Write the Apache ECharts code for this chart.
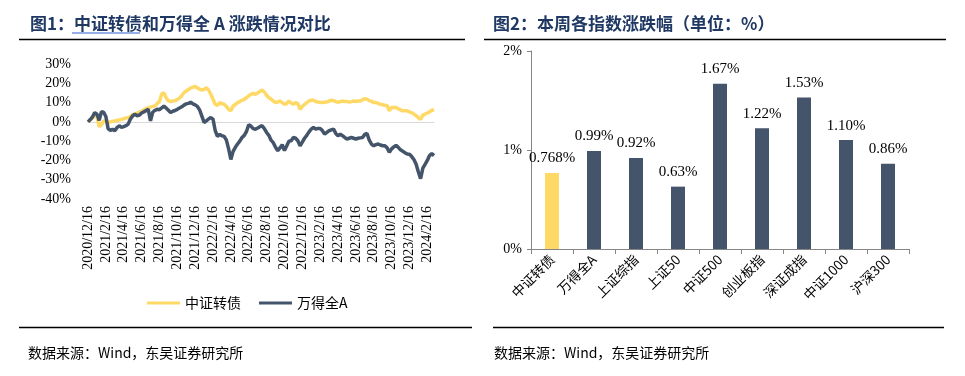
<!DOCTYPE html>
<html>
<head>
<meta charset="utf-8">
<title>可转债周报图表</title>
<script src="https://cdn.jsdelivr.net/npm/echarts@6/dist/echarts.min.js"></script>
<style>
    html, body { margin: 0; padding: 0; background: #fff; }
    #chart { width: 965px; height: 376px; }
</style>
</head>
<body>
<div id="chart"></div>
<script>
// Fig 1: cumulative change since 2020/12/16 (%), one point roughly per week
const tickLabels = [
    '2020/12/16', '2021/2/16', '2021/4/16', '2021/6/16', '2021/8/16', '2021/10/16', '2021/12/16',
    '2022/2/16', '2022/4/16', '2022/6/16', '2022/8/16', '2022/10/16', '2022/12/16',
    '2023/2/16', '2023/4/16', '2023/6/16', '2023/8/16', '2023/10/16', '2023/12/16', '2024/2/16'
];

const convBond = [
    0, 0.8, 2, 3.5, 3, -2.5, -1.5, 0.5, 0.2, -0.5,
    0, 0.3, 0.5, 0.8, 1.0, 1.3, 1.6, 2.0, 2.2, 2.8,
    3.8, 4.0, 4.5, 5.0, 5.5, 6.2, 6.8, 7.2, 7.6, 8.0,
    8.3, 9.5, 10.5, 14.5, 15.0, 12.5, 11.0, 10.5, 10.8, 11,
    11.5, 12.3, 13.5, 15.1, 16, 16.8, 17.5, 18, 18.3, 17.6,
    17, 16.5, 16.8, 17.7, 16.5, 14.3, 11.7, 9.1, 8.5, 10,
    9.4, 9.1, 8.0, 6.5, 5.7, 8.2, 9.0, 10, 10.5, 11.2,
    11.7, 12.5, 13.5, 14.3, 14.8, 14.3, 15, 15.8, 16.5, 15.5,
    13.8, 12.5, 11.8, 10.8, 10, 10.3, 10.8, 10, 9.1, 9.5,
    10.8, 9.8, 9.1, 10, 9.5, 6.5, 8, 9, 10, 10.8,
    11.2, 11.2, 10.5, 10.3, 10.1, 10, 10.2, 10.3, 10.8, 11.2,
    11, 10.5, 10.2, 10.5, 10.8, 10.6, 10.5, 10.3, 10.5, 10.8,
    10.6, 10.8, 10.8, 11.5, 12, 11.8, 11, 10.6, 10, 10,
    9.6, 9.1, 8.9, 8.6, 8.5, 5.7, 7.4, 7.5, 7.4, 6.8,
    6.2, 5.7, 5.8, 5.7, 5.2, 4.8, 4.0, 3.2, 2.2, 1.2,
    3.5, 4.0, 4.6, 5.2, 6.0, 6.3
];

const windA = [
    0, 1.2, 2.5, 4.8, 4.0, 0.8, 5.2, 5.0, 2.8, -3.5,
    -4.4, -3.8, -4.6, -3.0, -2.0, -2.9, -2.5, -2.0, -1.2, 1.5,
    3.1, 4.0, 3.2, 3.5, 4.6, 5.2, 5.8, 6.5, 0.5, 5.0,
    6.0, 6.5, 6.3, 7.2, 8.2, 7.2, 6.0, 4.8, 5.5, 5.9,
    6.5, 7.2, 7.8, 8.7, 9.3, 9.6, 10.2, 9.3, 8.8, 8.0,
    6.2, 3.0, -0.3, 0.5, 1.5, 2.2, 1.4, -4.6, -7.5, -6.5,
    -7.2, -7.5, -9.5, -14, -19.5, -15.3, -13.2, -11.5, -10, -8.1,
    -7.0, -5.0, -1.5, -2.2, -3.5, -3.8, -3.2, -2.5, -2.0, -3.5,
    -5.5, -7.0, -9.5, -10.8, -13.2, -15.0, -13.5, -11.8, -14.9, -12.5,
    -10, -9.8, -8.1, -8.5, -9.8, -12.4, -10.5, -8.5, -7.0, -5.2,
    -3.8, -2.9, -3.8, -3.4, -3.4, -4.5, -6.4, -5.5, -4.6, -4.2,
    -3.8, -6.0, -7.2, -6.4, -7.2, -8.1, -8.9, -8.5, -8.1, -8.5,
    -8.9, -8.5, -8.3, -8.1, -6.5, -6.0, -9.5, -11.5, -12.4, -11.8,
    -11.5, -12, -12.4, -12.4, -13.5, -15.8, -14, -13, -12.2, -13.2,
    -14.5, -15.2, -16, -16.7, -16.8, -18, -19.5, -22, -26, -29.5,
    -24, -22, -20, -17.5, -16.5, -17.5
];

// Fig 2: this week's change by index (%)
const indexNames = ['中证转债', '万得全A', '上证综指', '上证50', '中证500', '创业板指', '深证成指', '中证1000', '沪深300'];
const weeklyChange = [0.768, 0.99, 0.92, 0.63, 1.67, 1.22, 1.53, 1.10, 0.86];
const weeklyLabels = ['0.768%', '0.99%', '0.92%', '0.63%', '1.67%', '1.22%', '1.53%', '1.10%', '0.86%'];

const YELLOW = '#FFD966';
const SLATE = '#44546A';
const TITLE_COLOR = '#1F3864';
const SERIF = "'Liberation Serif', 'Noto Sans CJK SC', serif";
const CJK = "'Noto Sans CJK SC', sans-serif";

// sample dates (1st, 8th, 16th, 24th of each month) from 2020/12/16 to 2024/3/8
function buildDates() {
    const dates = [];
    for (let y = 2020; y <= 2024; y++) {
        for (let m = 1; m <= 12; m++) {
            [1, 8, 16, 24].forEach(d => {
                const key = y * 10000 + m * 100 + d;
                if (key >= 20201216 && key <= 20240308) {
                    dates.push(y + '/' + m + '/' + d);
                }
            });
        }
    }
    return dates;
}
const dates = buildDates();

function headerGraphics() {
    const text = (x, y, str, font, fill) => ({
        type: 'text', left: x, top: y, silent: true,
        style: { text: str, font: font, fill: fill }
    });
    const rule = (x1, x2, y, w) => ({
        type: 'line', silent: true,
        shape: { x1: x1, y1: y, x2: x2, y2: y },
        style: { stroke: '#000', lineWidth: w }
    });
    return [
        text(30, 15, '图1：中证转债和万得全 A 涨跌情况对比', 'bold 17px ' + CJK, TITLE_COLOR),
        text(493, 15, '图2：本周各指数涨跌幅（单位：%）', 'bold 17px ' + CJK, TITLE_COLOR),
        { type: 'line', silent: true, shape: { x1: 72, y1: 33, x2: 140, y2: 33 }, style: { stroke: '#2F5FD0', lineWidth: 1.2 } },
        rule(19, 465, 39.5, 1.5),
        rule(484, 946, 39.5, 1.5),
        rule(19, 472, 327.5, 1.5),
        rule(493, 944, 327.5, 1.5),
        text(28, 346, '数据来源：Wind，东吴证券研究所', '14px ' + CJK, '#000'),
        text(494, 346, '数据来源：Wind，东吴证券研究所', '14px ' + CJK, '#000')
    ];
}

function initChart() {
    const chart = echarts.init(document.getElementById('chart'));

    const option = {
        animation: false,
        backgroundColor: '#fff',
        textStyle: { fontFamily: SERIF },
        graphic: headerGraphics(),
        legend: {
            data: ['中证转债', '万得全A'],
            left: 142,
            top: 291,
            icon: 'rect',
            itemWidth: 33,
            itemHeight: 3,
            itemGap: 18,
            textStyle: { fontFamily: CJK, fontSize: 14, color: '#000' }
        },
        grid: [
            { left: 88, right: 531, top: 64, bottom: 177 },
            { left: 531, right: 56, top: 51, bottom: 127 }
        ],
        xAxis: [
            {
                // zero line only
                type: 'category', gridIndex: 0, data: dates, boundaryGap: false,
                axisLine: { onZero: true, lineStyle: { color: '#D9D9D9', width: 1 } },
                axisTick: { show: false },
                axisLabel: { show: false }
            },
            {
                // date labels at the bottom
                type: 'category', gridIndex: 0, data: dates, boundaryGap: false, position: 'bottom',
                axisLine: { show: false, onZero: false },
                axisTick: { show: false },
                axisLabel: {
                    rotate: 90,
                    margin: 7,
                    fontSize: 14,
                    color: '#000',
                    fontFamily: SERIF,
                    interval: (idx, val) => tickLabels.includes(val)
                }
            },
            {
                type: 'category', gridIndex: 1, data: indexNames,
                axisLine: { lineStyle: { color: '#868686', width: 1 } },
                axisTick: { show: true, length: 5, lineStyle: { color: '#868686' } },
                axisLabel: { rotate: 45, interval: 0, margin: 8, fontSize: 13.5, color: '#000', fontFamily: CJK }
            }
        ],
        yAxis: [
            {
                type: 'value', gridIndex: 0, min: -40, max: 30, interval: 10,
                axisLine: { show: false },
                axisTick: { show: false },
                splitLine: { show: false },
                axisLabel: { formatter: '{value}%', fontSize: 14, color: '#000', margin: 17 }
            },
            {
                type: 'value', gridIndex: 1, min: 0, max: 2, interval: 1,
                axisLine: { show: true, lineStyle: { color: '#868686', width: 1 } },
                axisTick: { show: true, length: 4, lineStyle: { color: '#868686' } },
                splitLine: { show: false },
                axisLabel: { formatter: '{value}%', fontSize: 14, color: '#000', margin: 9 }
            }
        ],
        series: [
            {
                name: '中证转债', type: 'line', xAxisIndex: 0, yAxisIndex: 0,
                data: convBond, showSymbol: false, symbol: 'none',
                lineStyle: { color: YELLOW, width: 3.5 },
                itemStyle: { color: YELLOW }
            },
            {
                name: '万得全A', type: 'line', xAxisIndex: 0, yAxisIndex: 0,
                data: windA, showSymbol: false, symbol: 'none',
                lineStyle: { color: SLATE, width: 3.5 },
                itemStyle: { color: SLATE }
            },
            {
                name: '本周涨跌幅', type: 'bar', xAxisIndex: 2, yAxisIndex: 1,
                barWidth: 14,
                data: weeklyChange.map((v, i) => ({
                    value: v,
                    itemStyle: { color: i === 0 ? YELLOW : SLATE }
                })),
                label: {
                    show: true,
                    position: 'top',
                    distance: 7,
                    fontSize: 15,
                    color: '#000',
                    fontFamily: SERIF,
                    formatter: params => weeklyLabels[params.dataIndex]
                }
            }
        ]
    };

    chart.setOption(option);
}

document.addEventListener('DOMContentLoaded', initChart);
</script>
</body>
</html>
